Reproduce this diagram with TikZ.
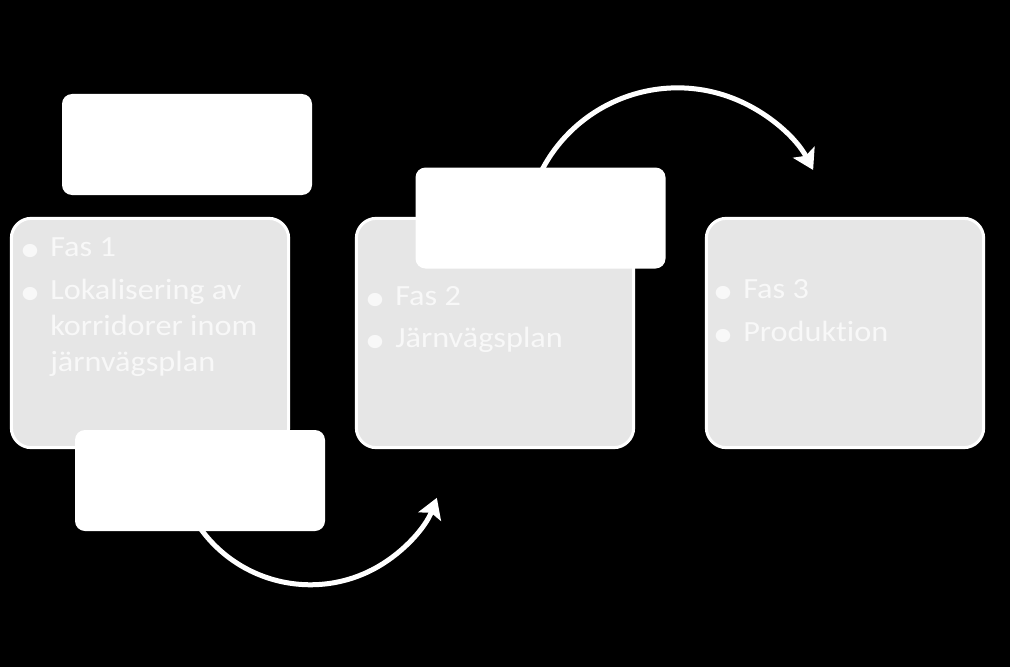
\documentclass[tikz,border=0pt]{standalone}
\usepackage{fontspec}
\setmainfont{Carlito}[Ligatures=NoCommon,FakeStretch=1.1]
\usetikzlibrary{arrows.meta}
\definecolor{boxgray}{RGB}{230,230,230}
\definecolor{txt}{RGB}{248,248,248}
\begin{document}
\begin{tikzpicture}[x=0.75pt,y=-0.75pt,
 phase/.style={draw=white, line width=2.25pt, fill=boxgray, rounded corners=15pt, minimum width=208pt, minimum height=172pt, inner sep=0pt, outer sep=0pt},
 tag/.style={fill=white, rounded corners=7.5pt, minimum width=187.5pt, minimum height=75.75pt, inner sep=0pt, outer sep=0pt},
 line/.style={text=txt, font=\fontsize{22}{27}\selectfont, anchor=base west, inner sep=0pt},
 dot/.style={text=txt, font=\fontsize{28}{28}\selectfont, anchor=base, inner sep=0pt},
 flow/.style={draw=white, line width=3.75pt, -{Stealth[length=15pt,width=18pt,inset=3pt]}}
]
\fill[black] (0,0) rectangle (1010,667);
\useasboundingbox (0,0) rectangle (1010,667);
% phase boxes
\node[phase] (p1) at (150,333) {};
\node[phase] (p2) at (495,333) {};
\node[phase] (p3) at (845,333) {};
% arrows
\coordinate (f1s) at (193,517);
\draw[flow] (f1s) arc[start angle=150, end angle=21, radius=135.5];
\coordinate (f2s) at (536.7,181.1);
\draw[flow] (f2s) arc[start angle=-157, end angle=-27.6, radius=153];
% white tags
\node[tag] (w1) at (187,144.5) {};
\node[tag] (w2) at (200,480.5) {};
\node[tag] (w3) at (540.5,218) {};
% texts box 1
\node[dot] (b1a) at (30,261) {•};
\node[line] (t1a) at (50,256) {Fas 1};
\node[dot] (b1b) at (30,304) {•};
\node[line] (t1b) at (50,299) {Lokalisering av};
\node[line] (t1c) at (50,335) {korridorer inom};
\node[line] (t1d) at (50,371) {järnvägsplan};
% box 2
\node[dot] (b2a) at (375,310) {•};
\node[line] (t2a) at (395,305) {Fas 2};
\node[dot] (b2b) at (375,352) {•};
\node[line] (t2b) at (395,347) {Järnvägsplan};
% box 3
\node[dot] (b3a) at (723,303) {•};
\node[line] (t3a) at (743,298) {Fas 3};
\node[dot] (b3b) at (723,346) {•};
\node[line] (t3b) at (743,341) {Produktion};
\end{tikzpicture}
\end{document}
